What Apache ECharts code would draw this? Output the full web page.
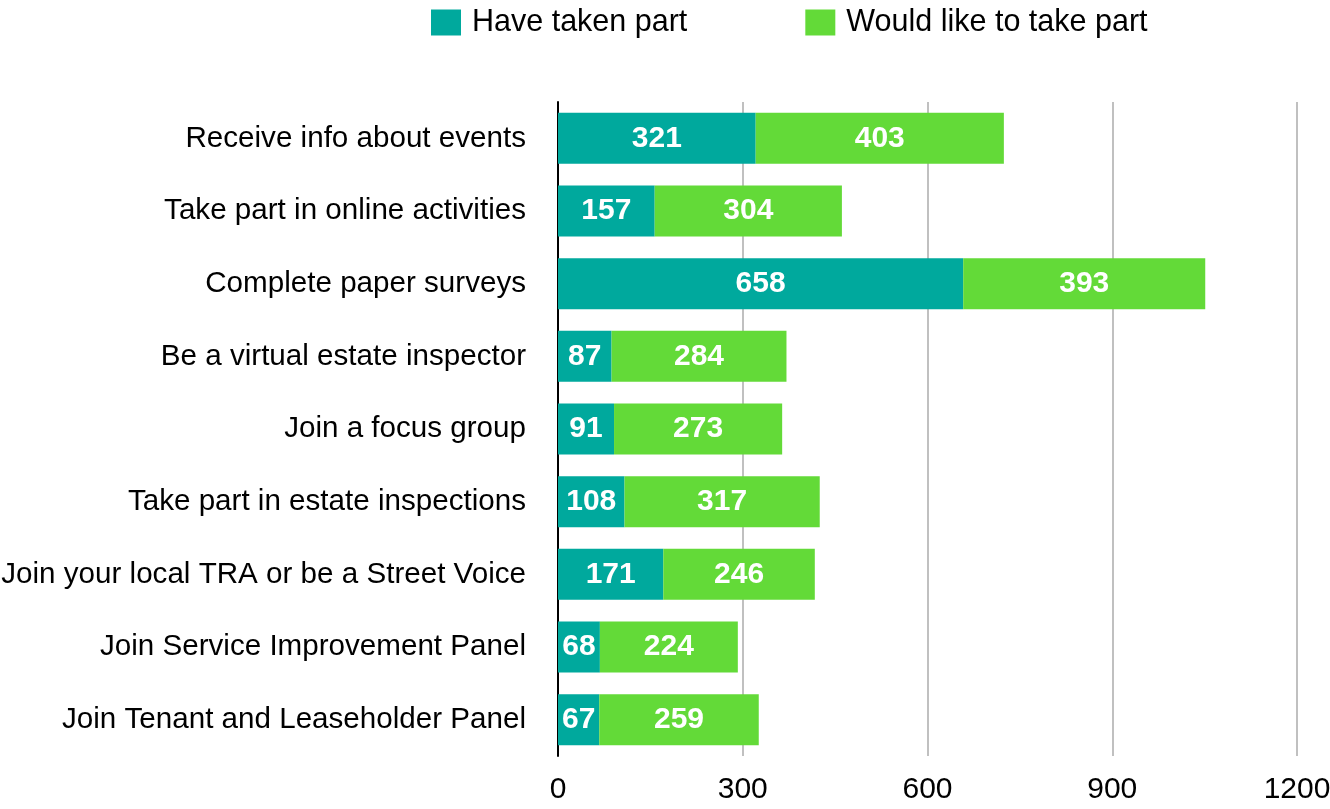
<!DOCTYPE html>
<html>
<head>
<meta charset="utf-8">
<script src="https://cdn.jsdelivr.net/npm/echarts@6/dist/echarts.min.js"></script>
<style>
  html, body { margin: 0; padding: 0; background: #fff; }
  #chart { width: 1330px; height: 809px; }
</style>
</head>
<body>
<div id="chart"></div>
<script>
// Engagement activities, listed top to bottom
const categories = [
  'Receive info about events',
  'Take part in online activities',
  'Complete paper surveys',
  'Be a virtual estate inspector',
  'Join a focus group',
  'Take part in estate inspections',
  'Join your local TRA or be a Street Voice',
  'Join Service Improvement Panel',
  'Join Tenant and Leaseholder Panel'
];
const haveTakenPart = [321, 157, 658, 87, 91, 108, 171, 68, 67];
const wouldLikeToTakePart = [403, 304, 393, 284, 273, 317, 246, 224, 259];
const seriesNames = ['Have taken part', 'Would like to take part'];
const xTicks = [0, 300, 600, 900, 1200];

const FONT = '"Liberation Sans", Helvetica, Arial, sans-serif';

const chart = echarts.init(document.getElementById('chart'), null, { renderer: 'canvas' });

const barLabel = {
  show: true,
  position: 'inside',
  color: '#fff',
  fontFamily: FONT,
  fontWeight: 'bold',
  fontSize: 30
};

chart.setOption({
  animation: false,
  color: ['#00A99D', '#63DA38'],
  legend: {
    top: 2,
    left: 426,
    itemWidth: 30,
    itemHeight: 26,
    itemGap: 118,
    icon: 'rect',
    textStyle: { fontFamily: FONT, fontSize: 30.5, color: '#000', padding: [0, 0, 0, 6] },
    data: seriesNames
  },
  grid: {
    left: 558, right: 33, top: 102, bottom: 53,
    containLabel: false,
    outerBoundsMode: 'none'
  },
  xAxis: {
    type: 'value',
    min: xTicks[0],
    max: xTicks[xTicks.length - 1],
    interval: 300,
    axisLine: { show: false },
    axisTick: { show: false },
    splitLine: { show: true, lineStyle: { color: '#c0c0c0', width: 2 } },
    axisLabel: {
      fontFamily: FONT, fontSize: 30, color: '#000', margin: 19,
      formatter: v => String(v)
    }
  },
  yAxis: {
    type: 'category',
    inverse: true,
    data: categories,
    axisLine: { show: true, onZero: false, lineStyle: { color: '#000', width: 2 } },
    axisTick: { show: false },
    axisLabel: { fontFamily: FONT, fontSize: 29.6, color: '#000', margin: 32 }
  },
  series: [
    {
      name: seriesNames[0],
      type: 'bar',
      stack: 'total',
      barWidth: 51,
      data: haveTakenPart,
      label: barLabel
    },
    {
      name: seriesNames[1],
      type: 'bar',
      stack: 'total',
      barWidth: 51,
      data: wouldLikeToTakePart,
      label: barLabel
    }
  ]
});
</script>
</body>
</html>
